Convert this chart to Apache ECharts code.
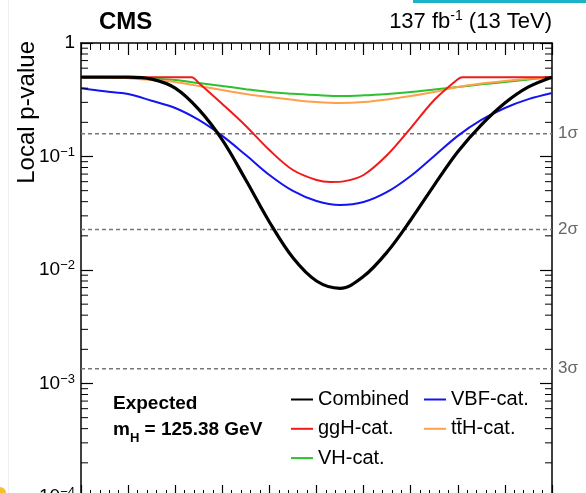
<!DOCTYPE html>
<html><head><meta charset="utf-8">
<script src="https://cdn.jsdelivr.net/npm/echarts@6/dist/echarts.min.js"></script>
<style>html,body{margin:0;padding:0;background:#fff}#c{width:586px;height:493px}</style>
</head><body><div id="c"></div>
<script>
// ---- data ----
const massGrid = [120,120.5,121,121.5,122,122.5,123,123.5,124,124.5,125,125.5,126,126.5,127,127.5,128,128.5,129,129.5,130];
const pCombined = [0.5,0.5,0.5,0.48,0.40,0.26,0.14,0.062,0.0265,0.0128,0.0080,0.0069,0.0088,0.0144,0.0276,0.056,0.11,0.19,0.296,0.41,0.5];
const pVBF = [0.40,0.375,0.355,0.31,0.2675,0.21,0.152,0.103,0.0687,0.0497,0.0405,0.0374,0.0397,0.0487,0.0673,0.101,0.152,0.21,0.2675,0.32,0.363];
const pVH = [0.5,0.5,0.495,0.485,0.472,0.444,0.418,0.392,0.370,0.357,0.348,0.341,0.346,0.356,0.370,0.39,0.41,0.432,0.453,0.477,0.5];
const pttH = [0.5,0.5,0.49,0.472,0.453,0.418,0.385,0.356,0.334,0.316,0.302,0.296,0.302,0.318,0.341,0.37,0.41,0.44,0.463,0.483,0.5];
const massGgH = [120,121,122.2,122.35,122.5,123,123.5,124,124.5,125,125.3,125.6,126,126.5,127,127.5,128,128.1,129,130];
const pGgH = [0.5,0.5,0.5,0.5,0.444,0.29,0.186,0.114,0.076,0.0621,0.0596,0.0607,0.0687,0.103,0.178,0.315,0.48,0.5,0.5,0.5];
const sigmaP = [0.158655, 0.02275, 0.00135];
const sigmaLabels = ['1σ','2σ','3σ'];
const massRange = [120, 130];
const yTickExponents = [0,-1,-2,-3,-4];
const seriesNames = ['Combined','ggH-cat.','VH-cat.','VBF-cat.','tt̄H-cat.'];

const FONT = 'Liberation Sans, Arial, Helvetica, sans-serif';
const minorVals = [];
for (let d = -4; d < 0; d++) for (let k = 2; k <= 9; k++) minorVals.push(+(k * Math.pow(10, d)).toPrecision(3));

function pairs(xs, ys){ return xs.map((x,i)=>[x, ys[i]]); }

const chart = echarts.init(document.getElementById('c'), null, {renderer:'canvas'});
const xAxisBase = {
  type:'value', min:120, max:130, interval:1, gridIndex:0,
  axisLine:{show:true, onZero:false, lineStyle:{color:'#000', width:1.5}},
  axisTick:{show:true, inside:true, length:12, lineStyle:{color:'#000', width:1.2}},
  minorTick:{show:true, splitNumber:5, length:7, lineStyle:{color:'#000', width:1}},
  axisLabel:{show:false}, splitLine:{show:false}
};
const yAxisBase = {
  type:'log', logBase:10, min:1e-4, max:1, gridIndex:0,
  axisLine:{show:true, onZero:false, lineStyle:{color:'#000', width:1.5}},
  axisTick:{show:true, inside:true, length:12, lineStyle:{color:'#000', width:1.2}},
  minorTick:{show:false}, splitLine:{show:false}
};
function line(name, xs, ys, color, width, z){
  return {type:'line', name, xAxisIndex:0, yAxisIndex:0, data:pairs(xs,ys), symbol:'none', showSymbol:false,
    smooth:0.35, lineStyle:{color, width}, itemStyle:{color}, z, silent:true};
}
const sigmaSeries = sigmaP.map((p,i)=>({
  type:'line', name:'sigma'+i, xAxisIndex:0, yAxisIndex:0, data:[[massRange[0],p],[massRange[1],p]],
  symbol:'none', showSymbol:false, silent:true, z:1,
  lineStyle:{type:[4,3], color:'#777', width:1.5},
  endLabel:{show:true, formatter:sigmaLabels[i], color:'#666', fontSize:17, fontFamily:FONT, distance:6}
}));
const legendCommon = {orient:'vertical', top:389.5, padding:0, itemGap:9.3, itemWidth:22, itemHeight:20,
  textStyle:{fontSize:20, lineHeight:20, color:'#000', fontFamily:FONT}, selectedMode:false,
  itemStyle:{opacity:0, borderWidth:0}, lineStyle:{opacity:1}};
const option = {
  animation:false,
  backgroundColor:'#fff',
  grid:{left:81, right:34, top:43, height:454, containLabel:false, outerBoundsMode:'none'},
  xAxis:[Object.assign({}, xAxisBase, {position:'top'}), Object.assign({}, xAxisBase, {position:'bottom'})],
  yAxis:[
    Object.assign({}, yAxisBase, {position:'left', axisLabel:{show:true, margin:6, color:'#000', fontFamily:FONT,
      formatter:(v)=>{ const e = Math.round(Math.log10(v)); if (!yTickExponents.includes(e)) return ''; return e === 0 ? '{b|1}' : '{b|10}{s|−' + (-e) + '}'; },
      rich:{ b:{fontSize:19, lineHeight:22, verticalAlign:'middle', fontFamily:FONT, color:'#000'},
             s:{fontSize:13, lineHeight:13, verticalAlign:'top', fontFamily:FONT, color:'#000'} }}}),
    Object.assign({}, yAxisBase, {position:'right', axisLabel:{show:false}})
  ],
  legend:[
    Object.assign({}, legendCommon, {left:290, data:[seriesNames[0], seriesNames[1], seriesNames[2]]}),
    Object.assign({}, legendCommon, {left:423, data:[seriesNames[3], seriesNames[4]]})
  ],
  series:[
    ...sigmaSeries,
    {type:'custom', name:'minorTicks', xAxisIndex:0, yAxisIndex:0, silent:true, clip:false, z:5,
     data: minorVals.map(v=>[massRange[0], v]),
     renderItem:(params, api)=>{
       const v = api.value(1);
       const L = api.coord([massRange[0], v]); const R = api.coord([massRange[1], v]);
       return {type:'group', children:[
         {type:'line', shape:{x1:L[0], y1:L[1], x2:L[0]+7, y2:L[1]}, style:{stroke:'#000', lineWidth:1}},
         {type:'line', shape:{x1:R[0]-7, y1:R[1], x2:R[0], y2:R[1]}, style:{stroke:'#000', lineWidth:1}}
       ]};
     }},
    line(seriesNames[2], massGrid, pVH, '#2ec02e', 2, 3),
    line(seriesNames[4], massGrid, pttH, '#ffa04a', 2, 3),
    line(seriesNames[3], massGrid, pVBF, '#1414f0', 2, 3),
    line(seriesNames[1], massGgH, pGgH, '#f01a1a', 2, 3),
    line(seriesNames[0], massGrid, pCombined, '#000', 3.2, 4)
  ],
  graphic:[
    {type:'rect', shape:{x:413, y:0, width:173, height:3}, style:{fill:'#1ab3c8'}, silent:true},
    {type:'line', shape:{x1:8.5, y1:0, x2:8.5, y2:493}, style:{stroke:'#f0f0f0', lineWidth:1}, silent:true},
    {type:'circle', shape:{cx:0, cy:493, r:6}, style:{fill:'#f5c02a'}, silent:true},
    {type:'text', x:99, y:22, style:{text:'CMS', font:'bold 24px ' + FONT, fill:'#000', align:'left', verticalAlign:'middle'}, silent:true},
    {type:'text', x:552, y:22, style:{text:'{a|137 fb}{s|-1}{a| (13 TeV)}', align:'right', verticalAlign:'middle',
      rich:{a:{fontSize:22, lineHeight:26, verticalAlign:'middle', fontFamily:FONT, fill:'#000'}, s:{fontSize:14, lineHeight:14, verticalAlign:'top', fontFamily:FONT, fill:'#000'}}}, silent:true},
    {type:'text', x:27, y:41, rotation:Math.PI/2, style:{text:'Local p-value', font:'24px ' + FONT, fill:'#000', align:'right', verticalAlign:'middle'}, silent:true},
    {type:'text', x:113, y:404, style:{text:'Expected', font:'bold 19px ' + FONT, fill:'#000', align:'left', verticalAlign:'middle'}, silent:true},
    {type:'text', x:113, y:430, style:{text:'{a|m}{s|H}{a| = 125.38 GeV}', align:'left', verticalAlign:'middle',
      rich:{a:{fontSize:19, fontWeight:'bold', lineHeight:22, verticalAlign:'middle', fontFamily:FONT, fill:'#000'}, s:{fontSize:13, fontWeight:'bold', lineHeight:13, verticalAlign:'bottom', fontFamily:FONT, fill:'#000', padding:[0,0,-4,0]}}}, silent:true}
  ]
};
chart.setOption(option);
</script>
</body></html>
